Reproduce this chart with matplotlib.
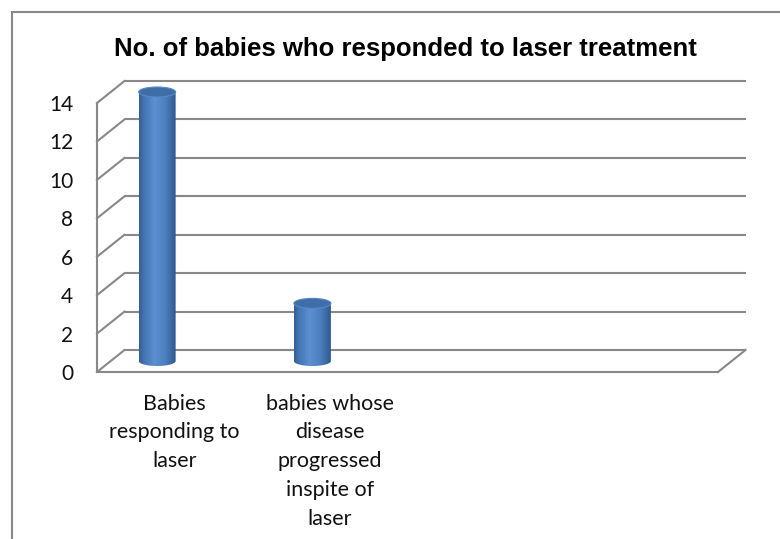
import numpy as np
import matplotlib
matplotlib.use("Agg")
import matplotlib.pyplot as plt
from matplotlib.patches import PathPatch, Ellipse
from matplotlib.path import Path
from matplotlib.colors import LinearSegmentedColormap
from matplotlib.lines import Line2D

# ---- data ----
title = "No. of babies who responded to laser treatment"
categories = ["Babies\nresponding to\nlaser",
              "babies whose\ndisease\nprogressed\ninspite of\nlaser"]
values = [14, 3]
yticks = [0, 2, 4, 6, 8, 10, 12, 14]
n_slots = 4  # category slots on the axis (two are empty)

# ---- layout ----
W, H = 780, 539
fig = plt.figure(figsize=(W / 100, H / 100), dpi=100)
fig.patch.set_facecolor("white")

ax = fig.add_axes([97 / W, (H - 372) / H, 621 / W, 269 / H])
ax.set_xlim(-0.5, n_slots - 0.5)
ax.set_ylim(0, 14)
ax.set_facecolor("none")

px_cat = 621 / n_slots        # pixels per category unit
px_val = 269 / 14             # pixels per value unit
dc = 27.5 / px_cat            # depth offset (x) in category units
dv = 22.0 / px_val            # depth offset (y) in value units

grid_col = "#888888"
glw = 1.5

for s in ("top", "right"):
    ax.spines[s].set_visible(False)
for s in ("left", "bottom"):
    ax.spines[s].set_color(grid_col)
    ax.spines[s].set_linewidth(glw)

x0, x1 = -0.5, n_slots - 0.5
# back wall gridlines and side-wall diagonals
for v in yticks:
    ax.plot([x0 + dc, x1 + dc], [v + dv, v + dv], color=grid_col, lw=glw,
            clip_on=False, zorder=1, solid_capstyle="butt")
    ax.plot([x0, x0 + dc], [v, v + dv], color=grid_col, lw=glw,
            clip_on=False, zorder=1)
# floor right edge
ax.plot([x1, x1 + dc], [0, dv], color=grid_col, lw=glw, clip_on=False, zorder=1)

# ---- cylinders ----
cmap = LinearSegmentedColormap.from_list(
    "cyl", [(0.0, "#345F95"), (0.15, "#4576B6"), (0.42, "#5C90D2"),
            (0.7, "#4E80C0"), (0.9, "#3A67A3"), (1.0, "#2C578C")])
grad = np.linspace(0, 1, 256)[None, :]

bar_dx = -17.5 / px_cat
bar_dy = 11.0 / px_val
rx = 18.5 / px_cat
ry = 5.0 / px_val

for i, v in enumerate(values):
    cx = i + bar_dx
    base = bar_dy
    top = v + bar_dy
    t = np.linspace(np.pi, 2 * np.pi, 60)
    verts = [(cx - rx, top), (cx - rx, base)]
    verts += list(zip(cx + rx * np.cos(t), base + ry * np.sin(t)))
    verts += [(cx + rx, top), (cx - rx, top)]
    codes = [Path.MOVETO] + [Path.LINETO] * (len(verts) - 2) + [Path.CLOSEPOLY]
    body = PathPatch(Path(verts, codes), transform=ax.transData,
                     facecolor="none", edgecolor="none")
    im = ax.imshow(grad, cmap=cmap, aspect="auto", interpolation="bilinear",
                   extent=[cx - rx, cx + rx, base - ry, top], zorder=3)
    im.set_clip_box(fig.bbox)
    im.set_clip_path(body)
    topell = Ellipse((cx, top), 2 * rx, 2 * ry, facecolor="#3F6DA8",
                     edgecolor="#5A88C4", lw=0.8, zorder=4, clip_on=False)
    ax.add_patch(topell)

ax.set_xlim(-0.5, n_slots - 0.5)
ax.set_ylim(0, 14)

# ---- ticks ----
ax.set_yticks(yticks)
ax.set_yticklabels([str(v) for v in yticks])
ax.set_xticks(range(len(categories)))
ax.set_xticklabels(categories, linespacing=1.55)
ax.tick_params(axis="y", length=0, pad=17, labelsize=15, labelcolor="#111111")
ax.tick_params(axis="x", length=0, pad=15.5, labelsize=15.5, labelcolor="#111111")
for lab in ax.get_xticklabels() + ax.get_yticklabels():
    lab.set_family("Lato")

# ---- title ----
fig.text(405 / W, 1 - 56 / H, title, ha="center", va="baseline",
         fontsize=18.5, fontweight="bold", family="Liberation Sans",
         color="#000000")

# ---- outer chart border ----
fig.add_artist(Line2D([11.5 / W, 11.5 / W], [0, 1 - 11.5 / H],
                      transform=fig.transFigure, color=grid_col, lw=1.5))
fig.add_artist(Line2D([11.5 / W, 1], [1 - 11.5 / H, 1 - 11.5 / H],
                      transform=fig.transFigure, color=grid_col, lw=1.5))

fig.savefig("out.png", dpi=100)
